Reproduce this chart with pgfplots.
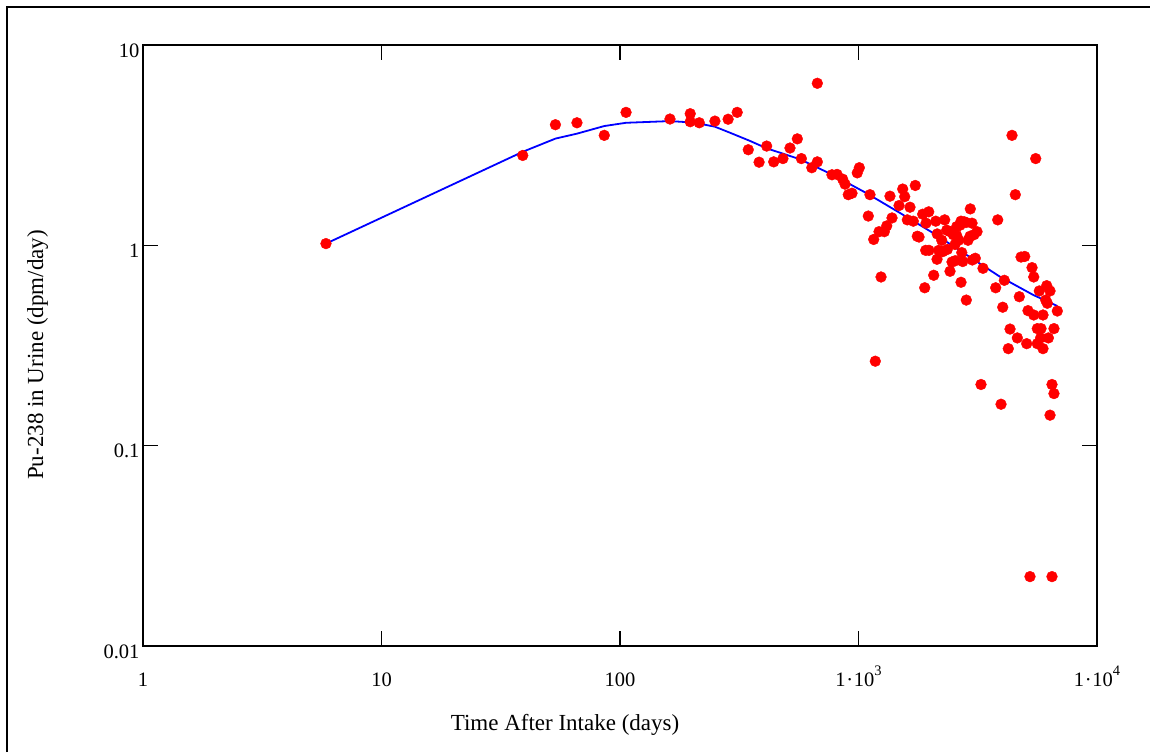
\documentclass[border=0pt]{standalone}
\usepackage{fontspec}
\setmainfont{Liberation Serif}
\usepackage{pgfplots}
\pgfplotsset{compat=1.18}
\definecolor{ptred}{RGB}{255,0,0}
\definecolor{fitblue}{RGB}{0,0,255}
\newcommand{\sci}[1]{1\kern0.8pt·\kern0.8pt10\raisebox{10.5pt}{\fontsize{14.5}{16}\selectfont #1}}
\begin{document}
\begin{tikzpicture}[x=1pt,y=1pt,font=\fontsize{20.5}{24}\selectfont]
\useasboundingbox (0,0) rectangle (1150,752);
\draw[line width=2pt] (6.7,0) -- (6.7,745.3) -- (1150,745.3);
\begin{axis}[
  at={(143pt,106pt)}, anchor=south west,
  width=954pt, height=601pt, scale only axis,
  xmode=log, ymode=log,
  xmin=1, xmax=10000, ymin=0.01, ymax=10,
  axis line style={line width=1.6pt},
  xtick={1,10,100,1000,10000},
  xticklabels={1,10,100,{\sci{3}},{\sci{4}}},
  ytick={0.01,0.1,1,10},
  yticklabels={0.01,0.1,1,10},
  xminorticks=false, yminorticks=false,
  tick align=inside,
  tick pos=both,
  major tick length=15pt,
  tick style={line width=1.6pt, black},
  tick label style={font=\fontsize{20.5}{24}\selectfont},
  xticklabel style={anchor=base, yshift=-40pt},
  yticklabel style={anchor=east, yshift=-5.5pt},
  clip=false,
]
\addplot[fitblue, line width=1.8pt, mark=none] coordinates {
(5.85,1.02) (39.1,2.93) (53.6,3.41) (66.0,3.61) (85.9,3.94) (106,4.09)
(162,4.17) (197,4.11) (215,4.05) (250,3.91) (289,3.65) (351,3.32)
(412,3.05) (568,2.69) (784,2.24) (1082,1.82) (1493,1.45) (2060,1.15)
(2842,0.895) (3920,0.697) (5408,0.565) (6816,0.498)
};
\addplot[only marks, mark=*, mark size=5.4pt, color=ptred, mark options={draw=ptred, fill=ptred}] coordinates {
(5.85,1.02) (39.1,2.81) (53.6,4.00) (66.0,4.09) (85.9,3.54) (106,4.61)
(162,4.27) (197,4.54) (197,4.14) (215,4.09) (250,4.17) (284,4.26)
(310,4.61) (672,6.44) (345,3.00) (412,3.13) (383,2.60) (441,2.61)
(482,2.71) (516,3.06) (554,3.40) (576,2.71) (637,2.44) (672,2.61)
(774,2.25) (813,2.26) (858,2.14) (878,2.02) (906,1.79) (939,1.82)
(988,2.30) (1008,2.44) (1117,1.79) (1099,1.40) (1158,1.07) (1243,0.695)
(1219,1.17) (1283,1.17) (1313,1.25) (1355,1.76) (1382,1.37) (1479,1.58)
(1532,1.91) (1562,1.75) (1730,1.99) (1644,1.55) (1602,1.34) (1697,1.32)
(1764,1.11) (1794,1.10) (1858,1.43) (1970,1.47) (1919,1.29) (2108,1.32)
(2298,1.34) (2138,1.14) (2343,1.19) (2233,1.06) (1913,0.944) (1975,0.944)
(2169,0.944) (2255,0.930) (2134,0.852) (2067,0.709) (1895,0.614) (2419,0.742)
(2466,0.826) (2545,0.838) (2690,0.654) (2831,0.533) (2735,0.830) (2580,1.12)
(2630,1.06) (2580,1.24) (2690,1.32) (2823,1.30) (2943,1.52) (2992,1.29)
(2878,1.06) (2934,1.11) (3050,1.13) (3140,1.17) (2710,0.920) (3000,0.845)
(3326,0.768) (3760,0.614) (3834,1.34) (4024,0.491) (4087,0.669) (4401,3.54)
(4544,1.79) (5533,2.71) (4723,0.554) (4801,0.874) (4976,0.880) (5340,0.774)
(5429,0.695) (6153,0.629) (6353,0.592) (5728,0.592) (6095,0.533) (6188,0.514)
(6816,0.470) (5136,0.472) (5429,0.449) (5936,0.449) (4318,0.382) (4634,0.345)
(4246,0.305) (5072,0.323) (5619,0.384) (5824,0.384) (6600,0.384) (5800,0.345)
(6253,0.345) (5619,0.323) (5936,0.305) (3263,0.202) (3959,0.161) (6475,0.202)
(6600,0.182) (6353,0.142) (5236,0.0222) (6475,0.0222) (1176,0.264) (2357,0.954)
(2538,1.01) (2419,1.17) (2497,1.13) (2665,1.26) (2777,1.31) (3088,0.862)
};
\end{axis}
\node[rotate=90, anchor=base, font=\fontsize{23}{27}\selectfont] at (43,397) {Pu-238 in Urine (dpm/day)};
\node[anchor=base, font=\fontsize{23}{27}\selectfont] at (565,22) {Time After Intake (days)};
\end{tikzpicture}
\end{document}
